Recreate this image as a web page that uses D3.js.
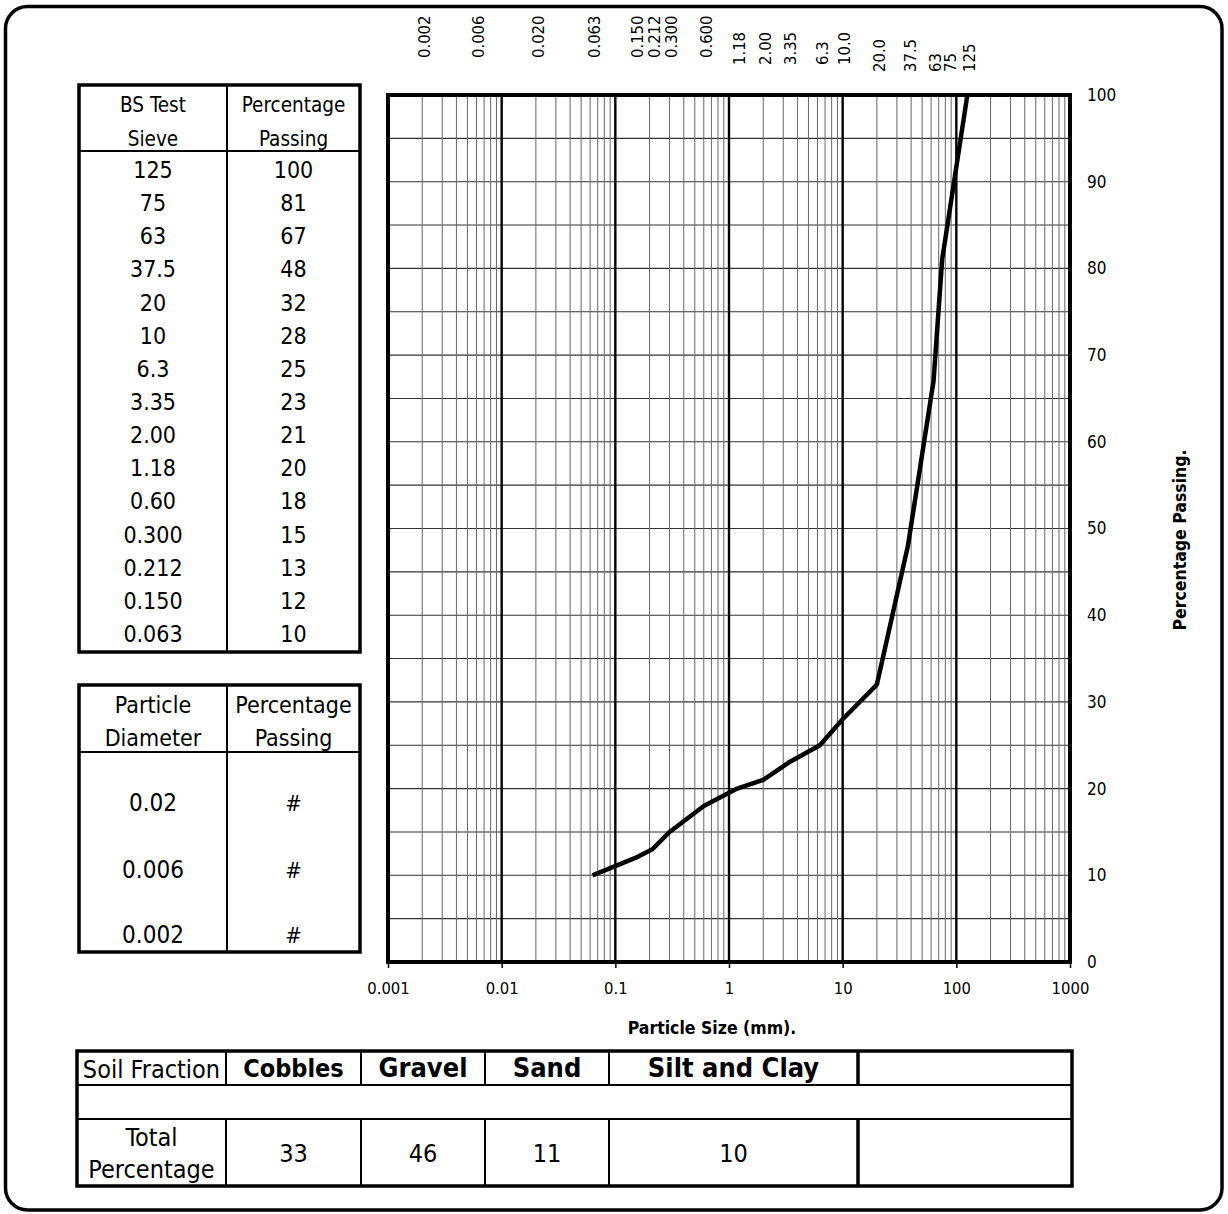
<!DOCTYPE html>
<html>
<head>
<meta charset="utf-8">
<style>
    body { margin: 0; background: #fff; }
    svg text { font-family: "DejaVu Sans Condensed", "DejaVu Sans", sans-serif; font-stretch: condensed; fill: #000; }
</style>
<script src="https://cdn.jsdelivr.net/npm/d3@7"></script>
</head>
<body>
<svg id="chart" width="1228" height="1214"></svg>
<script>
// grading data (BS sieves)
var sieveLabels = ["125", "75", "63", "37.5", "20", "10", "6.3", "3.35", "2.00", "1.18", "0.60", "0.300", "0.212", "0.150", "0.063"];
var sieveSizes = [125, 75, 63, 37.5, 20, 10, 6.3, 3.35, 2.00, 1.18, 0.60, 0.300, 0.212, 0.150, 0.063];
var percentPassing = [100, 81, 67, 48, 32, 28, 25, 23, 21, 20, 18, 15, 13, 12, 10];

// sizes written along the top of the chart
var topLabels = ["0.002", "0.006", "0.020", "0.063", "0.150", "0.212", "0.300", "0.600", "1.18", "2.00", "3.35", "6.3", "10.0", "20.0", "37.5", "63", "75", "125"];

// axes
var xTickValues = [0.001, 0.01, 0.1, 1, 10, 100, 1000];
var yTickValues = [0, 10, 20, 30, 40, 50, 60, 70, 80, 90, 100];

// fine particles table
var fineDiameters = ["0.02", "0.006", "0.002"];
var finePassing = ["#", "#", "#"];

// soil fraction table
var fractionNames = ["Cobbles", "Gravel", "Sand", "Silt and Clay", ""];
var fractionTotals = ["33", "46", "11", "10", ""];

var svg = d3.select("#chart");

// outer rounded frame
svg.append("rect").attr("x", 5.5).attr("y", 6.5).attr("width", 1216.5).attr("height", 1203.5)
    .attr("rx", 22).attr("fill", "none").attr("stroke", "#000").attr("stroke-width", 3.5);

var plot = { left: 388, right: 1070, top: 95, bottom: 962 };
var x = d3.scaleLog().domain([0.001, 1000]).range([plot.left, plot.right]);
var y = d3.scaleLinear().domain([0, 100]).range([plot.bottom, plot.top]);

var g = svg.append("g");

// horizontal grid every 5 %
g.selectAll(".hgrid").data(y.ticks(20)).enter().append("line")
    .attr("x1", plot.left).attr("x2", plot.right)
    .attr("y1", function (d) { return y(d); }).attr("y2", function (d) { return y(d); })
    .attr("stroke", "#333").attr("stroke-width", 1.1);

// vertical grid, 1..9 in each decade
var isDecade = function (d) { return Math.abs(Math.log10(d) - Math.round(Math.log10(d))) < 1e-9; };
g.selectAll(".vgrid").data(x.ticks()).enter().append("line")
    .attr("x1", function (d) { return x(d); }).attr("x2", function (d) { return x(d); })
    .attr("y1", plot.top).attr("y2", plot.bottom)
    .attr("stroke", function (d) { return isDecade(d) ? "#000" : "#666"; })
    .attr("stroke-width", function (d) { return isDecade(d) ? 2.4 : 1; });

// frame of the plot
g.append("rect").attr("x", plot.left).attr("y", plot.top)
    .attr("width", plot.right - plot.left).attr("height", plot.bottom - plot.top)
    .attr("fill", "none").attr("stroke", "#000").attr("stroke-width", 4);

// bottom axis
var xAxis = g.append("g").attr("transform", "translate(0," + plot.bottom + ")")
    .call(d3.axisBottom(x).tickValues(xTickValues).tickFormat(function (d) { return String(d); })
        .tickSize(6).tickPadding(14));
xAxis.select(".domain").remove();
xAxis.selectAll("line").attr("stroke", "#000").attr("stroke-width", 1.5);
xAxis.selectAll("text").attr("font-size", 16.5).attr("font-family", null);

// right axis labels
var yAxis = g.append("g").attr("transform", "translate(" + plot.right + ",0)")
    .call(d3.axisRight(y).tickValues(yTickValues).tickSize(0).tickPadding(17));
yAxis.select(".domain").remove();
yAxis.selectAll("text").attr("font-size", 17).attr("font-family", null);

// grading curve
var pts = sieveSizes.map(function (s, i) { return { size: s, pass: percentPassing[i] }; })
    .sort(function (a, b) { return a.size - b.size; });
var line = d3.line()
    .x(function (d) { return x(d.size); })
    .y(function (d) { return y(d.pass); });
g.append("path").datum(pts).attr("d", line)
    .attr("fill", "none").attr("stroke", "#000").attr("stroke-width", 4.5).attr("stroke-linejoin", "round");

// sieve sizes along the top, nudged apart when they would overlap
var lastX = -100;
var topPos = topLabels.map(function (d) {
    var px = x(+d) + 2;
    if (px - lastX < 15) px = lastX + 15;
    lastX = px;
    return px;
});
svg.selectAll(".toplab").data(topLabels).enter().append("text")
    .attr("transform", function (d, i) {
        var v = +d;
        var yb = v < 1 ? 58 : (v <= 10 ? 65 : 72);
        return "translate(" + topPos[i] + "," + yb + ") rotate(-90)";
    })
    .attr("dy", "0.35em").attr("font-size", 16.5).attr("text-anchor", "start")
    .text(function (d) { return d; });

// axis titles
svg.append("text").attr("x", 712).attr("y", 1034).attr("text-anchor", "middle")
    .attr("font-size", 17.5).attr("font-weight", "bold").text("Particle Size (mm).");
svg.append("text").attr("transform", "translate(1180,540) rotate(-90)").attr("dy", "0.35em")
    .attr("text-anchor", "middle").attr("font-size", 17.5).attr("font-weight", "bold").text("Percentage Passing.");

// helpers for the tables
function hline(x1, x2, yy, w) {
    svg.append("line").attr("x1", x1).attr("x2", x2).attr("y1", yy).attr("y2", yy)
        .attr("stroke", "#000").attr("stroke-width", w);
}
function vline(xx, y1, y2, w) {
    svg.append("line").attr("x1", xx).attr("x2", xx).attr("y1", y1).attr("y2", y2)
        .attr("stroke", "#000").attr("stroke-width", w);
}
function box(x1, y1, x2, y2, w) {
    svg.append("rect").attr("x", x1).attr("y", y1).attr("width", x2 - x1).attr("height", y2 - y1)
        .attr("fill", "none").attr("stroke", "#000").attr("stroke-width", w);
}
function label(txt, xx, yy, size, bold) {
    svg.append("text").attr("x", xx).attr("y", yy).attr("dy", "0.35em").attr("text-anchor", "middle")
        .attr("font-size", size).attr("font-weight", bold ? "bold" : "normal").text(txt);
}

// sieve table
var t1 = { l: 79, r: 360, mid: 227, top: 85, head: 151, bot: 652 };
box(t1.l, t1.top, t1.r, t1.bot, 3.5);
vline(t1.mid, t1.top, t1.bot, 2);
hline(t1.l, t1.r, t1.head, 2);
var c1 = (t1.l + t1.mid) / 2, c2 = (t1.mid + t1.r) / 2;
label("BS Test", c1, 105, 20.5);
label("Sieve", c1, 139, 20.5);
label("Percentage", c2, 105, 20.5);
label("Passing", c2, 139, 20.5);
var rowY = d3.scaleLinear().domain([0, sieveLabels.length - 1]).range([170, 634]);
sieveLabels.forEach(function (s, i) {
    label(s, c1, rowY(i), 23);
    label(String(percentPassing[i]), c2, rowY(i), 23);
});

// fine particle table
var t2 = { l: 79, r: 360, mid: 227, top: 685, head: 752, bot: 952 };
box(t2.l, t2.top, t2.r, t2.bot, 3.5);
vline(t2.mid, t2.top, t2.bot, 2);
hline(t2.l, t2.r, t2.head, 2);
label("Particle", c1, 705, 23);
label("Diameter", c1, 738, 23);
label("Percentage", c2, 705, 23);
label("Passing", c2, 738, 23);
var fineY = [803, 870, 935];
fineDiameters.forEach(function (s, i) {
    label(s, c1, fineY[i], 24);
    label(finePassing[i], c2, fineY[i], 22);
});

// soil fraction table
var t3 = { l: 77, r: 1072, top: 1051, r1: 1085, r2: 1119, bot: 1186 };
var cols = [77, 226, 361, 485, 609, 858, 1072];
box(t3.l, t3.top, t3.r, t3.bot, 3.5);
hline(t3.l, t3.r, t3.r1, 2);
hline(t3.l, t3.r, t3.r2, 2);
cols.slice(1, -1).forEach(function (cx, i) {
    var w = (i === cols.length - 3) ? 3.5 : 2;
    vline(cx, t3.top, t3.r1, w);
    vline(cx, t3.r2, t3.bot, w);
});
label("Soil Fraction", (cols[0] + cols[1]) / 2, 1069, 25);
label("Total", (cols[0] + cols[1]) / 2, 1137, 25);
label("Percentage", (cols[0] + cols[1]) / 2, 1169, 25);
fractionNames.forEach(function (n, i) {
    var cx = (cols[i + 1] + cols[i + 2]) / 2;
    label(n, cx, 1068, i === 0 ? 25 : 27, true);
    label(fractionTotals[i], cx, 1153, 25);
});
</script>
</body>
</html>
